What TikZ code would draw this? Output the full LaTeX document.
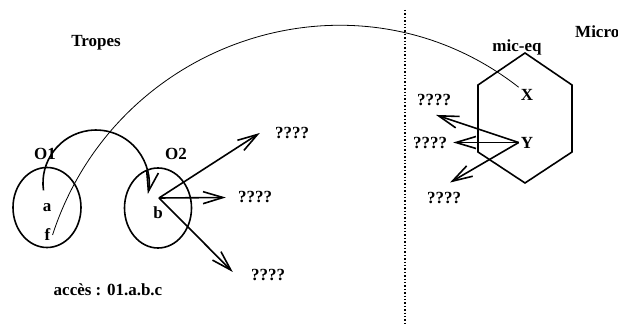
\documentclass[tikz,border=0pt]{standalone}
\usepackage{fontspec}
\setmainfont{Liberation Serif}
\usetikzlibrary{arrows.meta}
\newcommand{\LabelFont}{\fontsize{17}{19}\selectfont\bfseries}
\tikzset{
  outline/.style={draw=black,line width=1.6pt},
  thin link/.style={draw=black,line width=0.8pt},
  barb arrow/.style={draw=black,line width=1.6pt,-{Straight Barb[length=20pt,width=12pt]}},
  separator/.style={draw=black,line width=1.4pt,dotted},
  label/.style={inner sep=2pt,font=\LabelFont}
}

\begin{document}
\begin{tikzpicture}[x=1pt,y=1pt]
  % pixel grid of the 618 x 329 sketch, y pointing up
  \path[use as bounding box] (0,0) rectangle (618,329);

  % left half: the two objects
  \draw[outline] (47,121.5) ellipse[x radius=34,y radius=40];
  \draw[outline] (158,121) ellipse[x radius=33.5,y radius=40];

  \node[label] (tropes) at (96,286.5) {Tropes};
  \node[label] (o1) at (45,175) {O1};
  \node[label] (o2) at (176,175) {O2};
  \node[label] (a) at (47,121) {a};
  \node[label] (f) at (47.5,94) {f};
  \node[label] (b) at (158,116.5) {b};
  \node[label] (acces) at (108,39) {accès : 01.a.b.c};
  \node[label] (qa) at (292,196) {????};
  \node[label] (qb) at (255,132.5) {????};
  \node[label] (qc) at (268,54) {????};

  \coordinate (aTop) at (43.5,138.6);
  \coordinate (bhub) at (159,131);
  \draw[barb arrow] (aTop) arc[start angle=188,end angle=-12,radius=53];
  \draw[barb arrow] (bhub) -- ([xshift=-13pt]qa.west);
  \draw[barb arrow] (bhub) -- ([xshift=-10pt,yshift=-1pt]qb.west);
  \draw[barb arrow] (bhub) -- ([xshift=-16pt,yshift=3pt]qc.west);

  % separator
  \draw[separator] (405,319) -- (405,3);

  % right half: the micro part
  \node[label,anchor=west] (micro) at (573,297) {Micro};
  \node[label] (miceq) at (517,282) {mic-eq};
  \draw[outline] (525,276) -- (572,244) -- (572,177) -- (525,146)
    -- (478,177) -- (478,244) -- cycle;
  \node[label] (X) at (527,234) {X};
  \node[label] (Y) at (527,186.5) {Y};
  \node[label] (qd) at (434,229) {????};
  \node[label] (qe) at (430,186.5) {????};
  \node[label] (qf) at (444,131.5) {????};

  \draw[barb arrow] (Y.west) -- ([xshift=2pt,yshift=-7pt]qd.south);
  \draw[barb arrow] (Y.west) -- ([xshift=4pt]qe.east);
  \draw[barb arrow] (Y.west) -- ([xshift=6pt,yshift=7pt]qf.north);

  % long link from f to X
  \draw[thin link] (f.east) to[out=72,in=142,looseness=1.08] (X.north west);
\end{tikzpicture}
\end{document}
